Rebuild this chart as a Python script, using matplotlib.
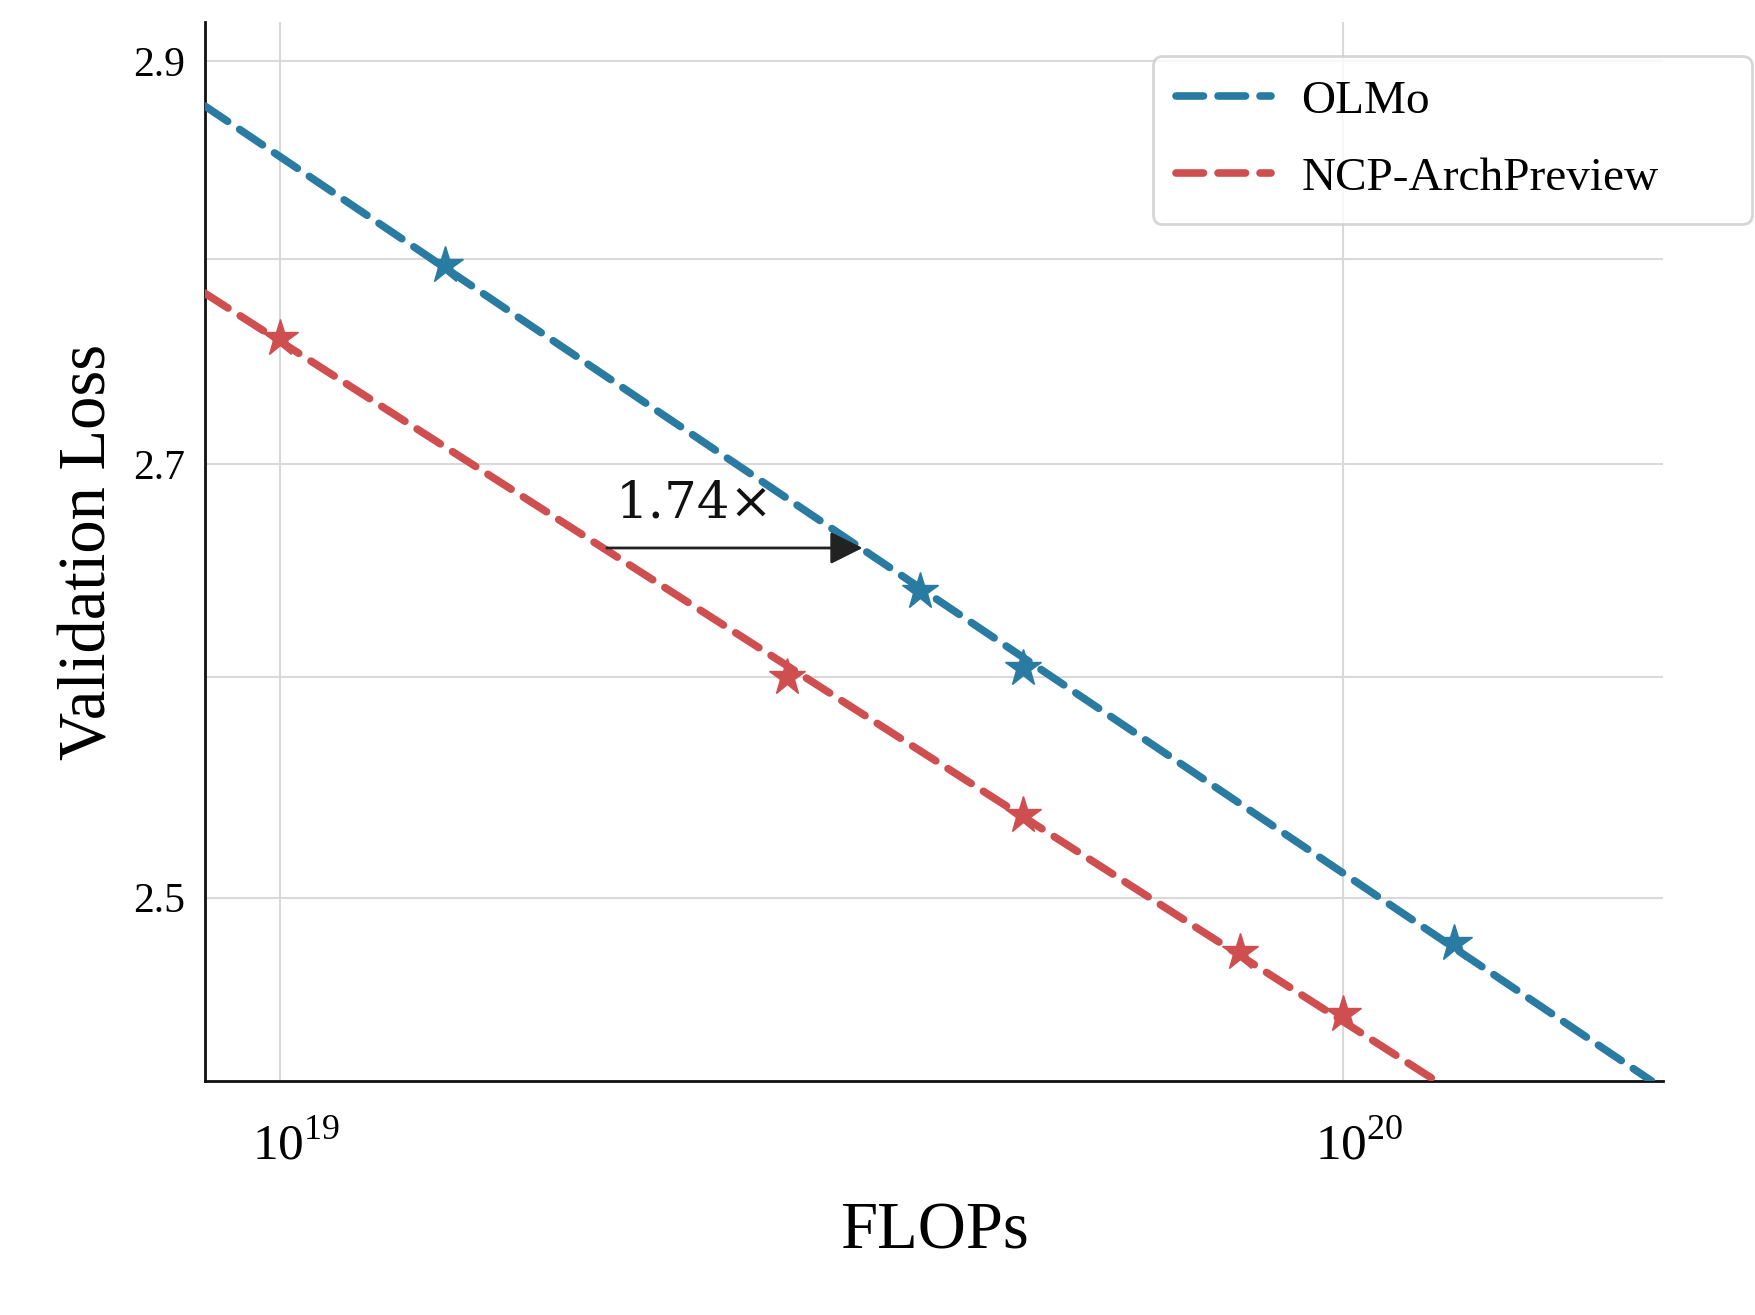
import numpy as np
import matplotlib
matplotlib.use("Agg")
import matplotlib.pyplot as plt
import matplotlib.transforms as mtransforms

plt.rcParams['font.family'] = ['Liberation Serif', 'DejaVu Serif']
plt.rcParams['mathtext.fontset'] = 'custom'
plt.rcParams['mathtext.rm'] = 'Liberation Serif'

# fitted power-law lines (endpoints, log-log straight)
olmo_fit_x = [8.5e18, 1.95e20]
olmo_fit_y = [2.877, 2.42]
ncp_fit_x = [8.5e18, 1.223e20]
ncp_fit_y = [2.783, 2.42]

# measured runs
olmo_x = [1.43e19, 4.0e19, 5.0e19, 1.27e20]
olmo_y = [2.797, 2.640, 2.604, 2.480]
ncp_x = [1.0e19, 3.0e19, 5.0e19, 8.0e19, 1.0e20]
ncp_y = [2.761, 2.600, 2.537, 2.476, 2.449]

# speed-up arrow
arrow_x0 = 2.03e19
speedup = 1.74
arrow_y = 2.660

blue = '#2a7ba1'
red = '#cf4f50'

fig = plt.figure(figsize=(17.55, 13.15), dpi=100)
ax = fig.add_axes([0.1167, 0.178, 0.831, 0.805])

ax.set_xscale('log')
ax.set_yscale('log')

ax.plot(olmo_fit_x, olmo_fit_y, color=blue, lw=5.5, dashes=(3.6, 1.9),
        dash_capstyle='round', label='OLMo', zorder=3)
ax.plot(ncp_fit_x, ncp_fit_y, color=red, lw=5.5, dashes=(3.6, 1.9),
        dash_capstyle='round', label='NCP-ArchPreview', zorder=3)
ax.plot(olmo_x, olmo_y, ls='none', marker='*', ms=28, color=blue, zorder=4)
ax.plot(ncp_x, ncp_y, ls='none', marker='*', ms=28, color=red, zorder=4)

ax.annotate('', xy=(arrow_x0 * speedup, arrow_y), xytext=(arrow_x0, arrow_y),
            arrowprops=dict(arrowstyle='-|>', color='#222222', lw=2,
                            mutation_scale=50, shrinkA=0, shrinkB=0), zorder=5)
ax.text(2.07e19, 2.681, '1.74\u00d7', fontsize=37, color='#111111',
        ha='left', va='center', family='DejaVu Serif')

ax.set_xlim(8.5e18, 2.0e20)
ax.set_ylim(2.42, 2.92)

ax.set_xticks([1e19, 1e20])
ax.set_xticklabels(['$10^{19}$', '$10^{20}$'])
ax.set_xticks([], minor=True)
ax.set_yticks([2.5, 2.6, 2.7, 2.8, 2.9])
ax.set_yticklabels(['2.5', '', '2.7', '', '2.9'])
ax.set_yticks([], minor=True)

ax.tick_params(axis='x', labelsize=37, length=0, pad=30)
ax.tick_params(axis='y', labelsize=30, length=0, pad=14)
shift = mtransforms.ScaledTranslation(0.16, 0, fig.dpi_scale_trans)
for lbl in ax.get_xticklabels():
    lbl.set_transform(lbl.get_transform() + shift)

ax.grid(True, color='#d9d9d9', lw=1.5)
ax.set_axisbelow(True)
for s in ['top', 'right']:
    ax.spines[s].set_visible(False)
for s in ['left', 'bottom']:
    ax.spines[s].set_color('#111111')
    ax.spines[s].set_linewidth(2)

ax.set_xlabel('FLOPs', fontsize=48, labelpad=22)
ax.set_ylabel('Validation Loss', fontsize=48, labelpad=10)

leg = ax.legend(loc='upper left', fontsize=34, frameon=True, fancybox=True,
                borderpad=0.5, handlelength=2.0, handletextpad=0.65,
                labelspacing=0.72, mode='expand', borderaxespad=0,
                bbox_to_anchor=(0.650, 0.0, 0.4106, 0.968))
leg.get_frame().set_edgecolor('#cccccc')
leg.get_frame().set_linewidth(2)

fig.savefig('out.png', dpi=100)
